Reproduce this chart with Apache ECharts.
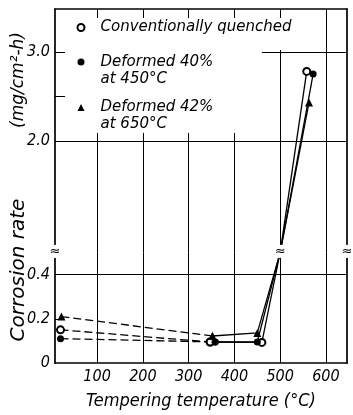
<!DOCTYPE html>
<html><head><meta charset="utf-8">
<script src="https://cdn.jsdelivr.net/npm/echarts@6/dist/echarts.min.js"></script>
<style>html,body{margin:0;padding:0;background:#fff}#c{width:353px;height:415px}</style>
</head><body><div id="c"></div>
<script>
// ---- data ----
const seriesNames = ['Conventionally quenched', 'Deformed 40% at 450°C', 'Deformed 42% at 650°C'];
const convTemp  = [20, 347, 460, 558];
const convRate  = [0.15, 0.095, 0.093, 2.78];
const def40Temp = [20, 358, 450, 572];
const def40Rate = [0.11, 0.095, 0.095, 2.75];
const def42Temp = [22, 352, 450, 563];
const def42Rate = [0.21, 0.122, 0.136, 2.43];
const xTickLabels = [100, 200, 300, 400, 500, 600];
const yTicksLow = [0, 0.2, 0.4];
const yTicksHigh = [2.0, 3.0];
const yNameParts = ['Corrosion rate', '(mg/cm²-h)'];
const breakTemp = 500;          // lines pass the axis break on the 500 °C line

// ---- axis layout ----
const xMin = 8, xMax = 646;
const lowMin = 0, lowMax = 0.5;
const highMin = 0.75, highMax = 3.48;

const FONT = "'DejaVu Sans Condensed', 'DejaVu Sans', sans-serif";
const FONT2 = "'DejaVu Sans', sans-serif";
const chart = echarts.init(document.getElementById('c'), null, {renderer: 'canvas'});

const lineW = 1.3;
function buildSeries(name, temps, rates, symbol, size, itemStyle) {
  const pts = temps.map((t, i) => [t, rates[i]]);
  const low = pts.filter(p => p[1] <= lowMax);
  const high = pts.filter(p => p[1] >= highMin);
  const common = {
    name, type: 'line', symbol, symbolSize: size, itemStyle,
    animation: false, silent: true, z: 3,
    emphasis: {disabled: true}
  };
  return [
    Object.assign({}, common, {
      xAxisIndex: 0, yAxisIndex: 0,
      data: low.slice(0, 2),
      lineStyle: {color: '#000', width: lineW, type: [8, 4]}
    }),
    Object.assign({}, common, {
      xAxisIndex: 0, yAxisIndex: 0,
      data: low.slice(1).concat([{value: [breakTemp, lowMax], symbol: 'none'}]),
      lineStyle: {color: '#000', width: lineW, type: 'solid'}
    }),
    Object.assign({}, common, {
      xAxisIndex: 1, yAxisIndex: 1,
      data: [{value: [breakTemp, highMin], symbol: 'none'}].concat(high),
      lineStyle: {color: '#000', width: lineW, type: 'solid'}
    })
  ];
}

const gridLine = {color: '#000', width: 1, type: 'solid'};
function markLines(data) {
  return {
    silent: true, symbol: 'none', animation: false,
    label: {show: false}, emphasis: {disabled: true},
    lineStyle: gridLine, data
  };
}

const series = [].concat(
  buildSeries(seriesNames[0], convTemp, convRate, 'emptyCircle', 7, {color: '#000', borderColor: '#000', borderWidth: 1.2}),
  buildSeries(seriesNames[1], def40Temp, def40Rate, 'circle', 7, {color: '#000'}),
  buildSeries(seriesNames[2], def42Temp, def42Rate, 'triangle', 8, {color: '#000'})
);
// grid lines of the lower panel
series[0].markLine = markLines(
  [{yAxis: 0.4}].concat(xTickLabels.map(v => ({xAxis: v})))
);
// grid lines of the upper panel (partly hidden behind the key)
const legendBottom = 2.09;
series[2].markLine = markLines(
  [{yAxis: 2.0},
   [{coord: [460, 3.0]}, {coord: [xMax, 3.0]}],
   [{coord: [500, highMin]}, {coord: [500, 3.02]}],
   {xAxis: 600}]
  .concat([100, 200, 300, 400].map(v => [{coord: [v, highMin]}, {coord: [v, legendBottom]}]))
);

const axisLineStyle = {show: true, lineStyle: {color: '#000', width: 1.7}};
const labelFont = {fontFamily: FONT, fontStyle: 'italic', fontSize: 16, color: '#000'};
const fmtY = v => (v === 0 ? '0' : Number(v).toFixed(1));

const option = {
  backgroundColor: '#fff',
  animation: false,
  grid: [
    {left: 55, right: 6, top: 252.4, bottom: 52},
    {left: 55, right: 6, top: 9, height: 243.4}
  ],
  xAxis: [
    {gridIndex: 0, type: 'value', min: xMin, max: xMax, position: 'bottom',
     axisLine: axisLineStyle, axisTick: {show: false}, splitLine: {show: false},
     axisLabel: Object.assign({customValues: xTickLabels, margin: 6}, labelFont),
     name: 'Tempering temperature (°C)', nameLocation: 'middle', nameGap: 29,
     nameTextStyle: {fontFamily: FONT, fontStyle: 'italic', fontSize: 18, color: '#000'}},
    {gridIndex: 1, type: 'value', min: xMin, max: xMax, position: 'top',
     axisLine: axisLineStyle,
     axisTick: {show: true, inside: true, length: 9, customValues: xTickLabels, lineStyle: {color: '#000', width: 1}},
     axisLabel: {show: false}, splitLine: {show: false}}
  ],
  yAxis: [
    {gridIndex: 0, type: 'value', min: lowMin, max: lowMax, position: 'left',
     axisLine: axisLineStyle,
     axisTick: {show: true, inside: true, length: 7, customValues: [0.2], lineStyle: {color: '#000', width: 1}},
     axisLabel: Object.assign({customValues: yTicksLow, margin: 5, formatter: fmtY}, labelFont),
     splitLine: {show: false}},
    {gridIndex: 1, type: 'value', min: highMin, max: highMax, position: 'left',
     axisLine: axisLineStyle,
     axisTick: {show: true, inside: true, length: 10, customValues: [2.5, 3.0], lineStyle: {color: '#000', width: 1}},
     axisLabel: Object.assign({customValues: yTicksHigh, margin: 5, formatter: fmtY}, labelFont),
     splitLine: {show: false}},
    {gridIndex: 0, type: 'value', min: lowMin, max: lowMax, position: 'right',
     axisLine: axisLineStyle, axisTick: {show: false}, axisLabel: {show: false}, splitLine: {show: false}},
    {gridIndex: 1, type: 'value', min: highMin, max: highMax, position: 'right',
     axisLine: axisLineStyle, axisTick: {show: false}, axisLabel: {show: false}, splitLine: {show: false}}
  ],
  legend: {
    orient: 'vertical', left: 76.5, top: 14, padding: 0,
    itemWidth: 7, itemHeight: 7, itemGap: 3, selectedMode: false,
    data: [
      {name: seriesNames[0], icon: 'emptyCircle'},
      {name: seriesNames[1], icon: 'circle'},
      {name: seriesNames[2], icon: 'triangle'}
    ],
    formatter: function (name) {
      const parts = name.split(' at ');
      if (parts.length === 1) return '{s8| }\n{a|' + name + '}\n{s8| }';
      return '{s17| }\n{a|' + parts[0] + '}\n{a|at ' + parts[1] + '}';
    },
    textStyle: {
      fontFamily: FONT2, fontStyle: 'italic', fontSize: 15, color: '#000',
      padding: [0, 0, 0, 11],
      rich: {
        a: {fontFamily: FONT2, fontStyle: 'italic', fontSize: 15, lineHeight: 17, color: '#000'},
        s8: {fontSize: 2, lineHeight: 8},
        s17: {fontSize: 2, lineHeight: 17}
      }
    }
  },
  graphic: [
    {id: 'yname1', type: 'text', x: 19, y: 270, rotation: Math.PI / 2,
     style: {text: yNameParts[0], fontFamily: FONT2, fontStyle: 'italic', fontSize: 20,
             fill: '#000', align: 'center', verticalAlign: 'middle'}},
    {id: 'yname2', type: 'text', x: 19, y: 80, rotation: Math.PI / 2,
     style: {text: yNameParts[1], fontFamily: FONT2, fontStyle: 'italic', fontSize: 17,
             fill: '#000', align: 'center', verticalAlign: 'middle'}}
  ],
  series
};
chart.setOption(option);

// break symbols on the left axis, the 500 °C line and the right border
const breakPts = [
  chart.convertToPixel({gridIndex: 0}, [xMin, lowMax]),
  chart.convertToPixel({gridIndex: 0}, [breakTemp, lowMax]),
  chart.convertToPixel({gridIndex: 0}, [xMax, lowMax])
];
chart.setOption({
  graphic: breakPts.map((p, i) => ({
    id: 'brk' + i, type: 'text', x: p[0], y: p[1] - 1, z: 10,
    style: {text: '≈', fontFamily: 'DejaVu Sans', fontSize: 13, fill: '#000',
            align: 'center', verticalAlign: 'middle', backgroundColor: '#fff', padding: [0, 0]}
  }))
});
</script>
</body></html>
